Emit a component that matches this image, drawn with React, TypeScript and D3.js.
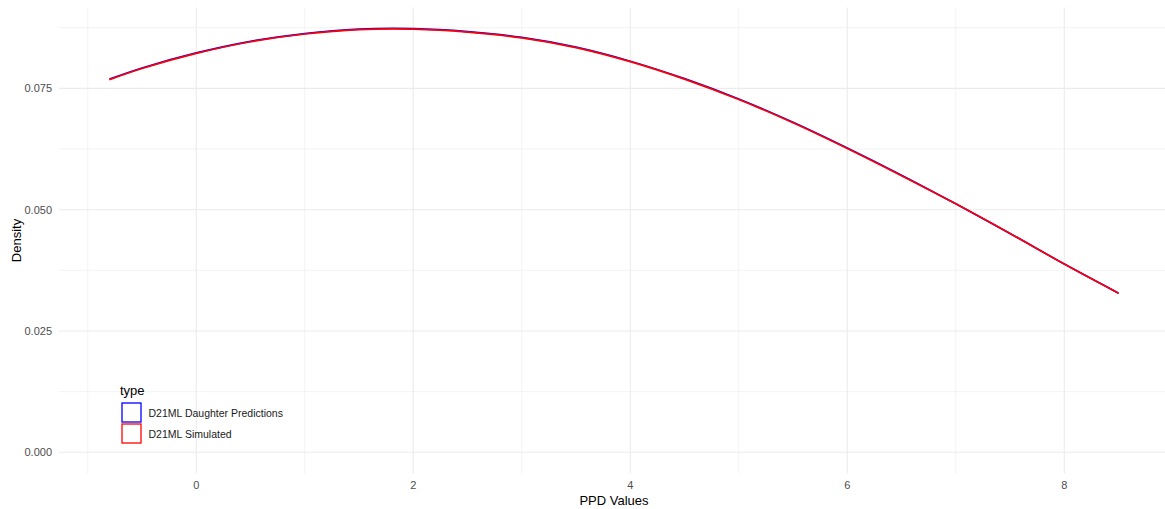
import React, { useEffect, useRef } from 'react'
import * as d3 from 'd3'

const W = 1165
const H = 509

// PPD values (x) and the two density curves
const ppdValues = [-0.8, -0.5, 0, 0.5, 1, 1.5, 2, 2.5, 3, 3.5, 4, 4.5, 5, 5.5, 6, 6.5, 7, 7.5, 8, 8.5]
const predictedDensity = [0.0769, 0.0792, 0.0823, 0.0847, 0.0863, 0.0872, 0.0873, 0.0867, 0.0855, 0.0835, 0.0806, 0.0770, 0.0728, 0.0680, 0.0627, 0.0571, 0.0512, 0.0451, 0.0388, 0.0328]
const simulatedDensity = [0.0768, 0.0791, 0.0822, 0.0846, 0.0862, 0.0871, 0.0872, 0.0866, 0.0854, 0.0834, 0.0805, 0.0769, 0.0727, 0.0679, 0.0626, 0.0570, 0.0512, 0.0451, 0.0388, 0.0328]

const seriesNames = ['D21ML Daughter Predictions', 'D21ML Simulated']
const seriesColors = ['#0000FF', '#FF0000']

const xTicks = [0, 2, 4, 6, 8]
const xMinor = [-1, 1, 3, 5, 7]
const yTicks = [0, 0.025, 0.05, 0.075]
const yMinor = [0.0125, 0.0375, 0.0625, 0.0875]

const FONT = '"Liberation Sans", Arial, sans-serif'

const App = () => {
	const ref = useRef<SVGSVGElement>(null)

	useEffect(() => {
		const svg = d3.select(ref.current)
		svg.selectAll('*').remove()

		const xMin = d3.min(ppdValues)!
		const xMax = d3.max(ppdValues)!
		const xPad = (xMax - xMin) * 0.05
		const yMax = d3.max([...predictedDensity, ...simulatedDensity])!
		const yPad = yMax * 0.05

		const x = d3.scaleLinear().domain([xMin - xPad, xMax + xPad]).range([59, 1169])
		const y = d3.scaleLinear().domain([-yPad, yMax + yPad]).range([473.5, 7.5])

		const grid = svg.append('g')
		grid.selectAll('.ymin')
			.data(yMinor)
			.join('line')
			.attr('x1', 59).attr('x2', 1169)
			.attr('y1', d => y(d)).attr('y2', d => y(d))
			.attr('stroke', '#EBEBEB').attr('stroke-width', 0.6)
		grid.selectAll('.xmin')
			.data(xMinor)
			.join('line')
			.attr('y1', 7.5).attr('y2', 473.5)
			.attr('x1', d => x(d)).attr('x2', d => x(d))
			.attr('stroke', '#EBEBEB').attr('stroke-width', 0.6)
		grid.selectAll('.ymaj')
			.data(yTicks)
			.join('line')
			.attr('x1', 59).attr('x2', 1169)
			.attr('y1', d => y(d)).attr('y2', d => y(d))
			.attr('stroke', '#EBEBEB').attr('stroke-width', 1.1)
		grid.selectAll('.xmaj')
			.data(xTicks)
			.join('line')
			.attr('y1', 7.5).attr('y2', 473.5)
			.attr('x1', d => x(d)).attr('x2', d => x(d))
			.attr('stroke', '#EBEBEB').attr('stroke-width', 1.1)

		// tick labels
		svg.append('g')
			.selectAll('text')
			.data(yTicks)
			.join('text')
			.attr('x', 52)
			.attr('y', d => y(d))
			.attr('dy', '0.35em')
			.attr('text-anchor', 'end')
			.attr('font-family', FONT)
			.attr('font-size', 11)
			.attr('fill', '#4D4D4D')
			.text(d => d3.format('.3f')(d))
		svg.append('g')
			.selectAll('text')
			.data(xTicks)
			.join('text')
			.attr('x', d => x(d))
			.attr('y', 485)
			.attr('dy', '0.35em')
			.attr('text-anchor', 'middle')
			.attr('font-family', FONT)
			.attr('font-size', 11)
			.attr('fill', '#4D4D4D')
			.text(d => d)

		// axis titles
		svg.append('text')
			.attr('x', (x.range()[0] + x.range()[1]) / 2)
			.attr('y', 500)
			.attr('dy', '0.35em')
			.attr('text-anchor', 'middle')
			.attr('font-family', FONT)
			.attr('font-size', 13)
			.attr('fill', '#000')
			.text('PPD Values')
		svg.append('text')
			.attr('transform', `translate(16, ${(y.range()[0] + y.range()[1]) / 2}) rotate(-90)`)
			.attr('dy', '0.35em')
			.attr('text-anchor', 'middle')
			.attr('font-family', FONT)
			.attr('font-size', 13)
			.attr('fill', '#000')
			.text('Density')

		// density lines
		const line = d3.line<number>()
			.x((d, i) => x(ppdValues[i]))
			.y(d => y(d))
			.curve(d3.curveCatmullRom)
		;[predictedDensity, simulatedDensity].forEach((vals, i) => {
			svg.append('path')
				.attr('d', line(vals))
				.attr('fill', 'none')
				.attr('stroke', seriesColors[i])
				.attr('stroke-width', 1.7)
		})

		// legend
		const legend = svg.append('g').attr('transform', 'translate(120, 0)')
		legend.append('text')
			.attr('x', 0)
			.attr('y', 390.5)
			.attr('dy', '0.35em')
			.attr('font-family', FONT)
			.attr('font-size', 13)
			.attr('fill', '#000')
			.text('type')
		seriesNames.forEach((name, i) => {
			const top = 403 + i * 21
			legend.append('rect')
				.attr('x', 2)
				.attr('y', top)
				.attr('width', 19)
				.attr('height', 19)
				.attr('fill', 'none')
				.attr('stroke', seriesColors[i])
				.attr('stroke-width', 1.3)
			legend.append('text')
				.attr('x', 28.5)
				.attr('y', top + 10.5)
				.attr('dy', '0.35em')
				.attr('font-family', FONT)
				.attr('font-size', 10.5)
				.attr('fill', '#1A1A1A')
				.text(name)
		})
	}, [])

	return (
		<svg
			ref={ref}
			width={W}
			height={H}
			style={{ position: 'absolute', left: 0, top: 0, background: '#fff' }}
		/>
	)
}

export default App
